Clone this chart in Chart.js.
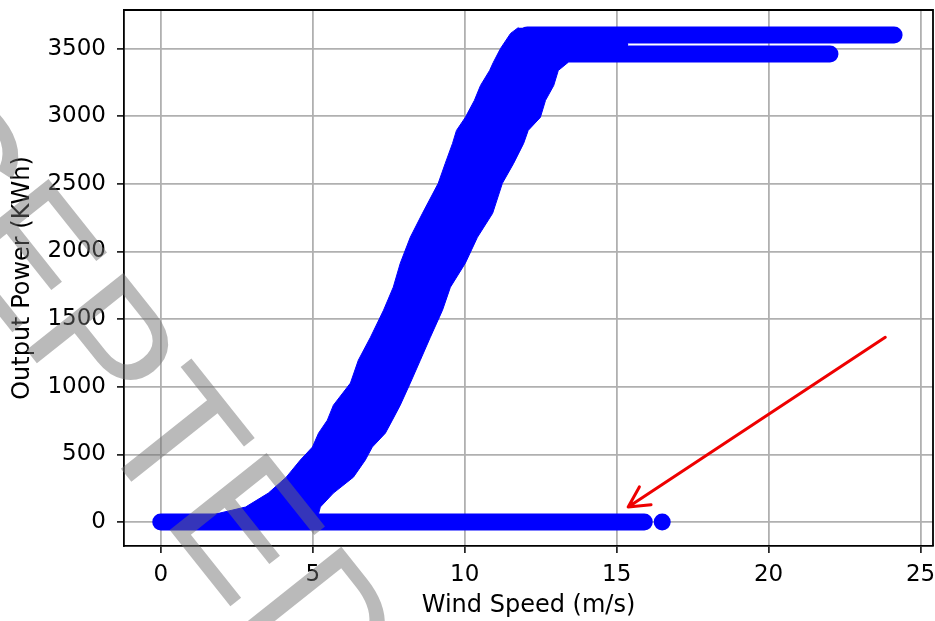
<!DOCTYPE html>
<html>
<head>
<meta charset="utf-8">
<title>Wind Speed vs Output Power</title>
<script src="https://cdn.jsdelivr.net/npm/chart.js@4.4.1/dist/chart.umd.min.js"></script>
<style>
  html, body { margin: 0; padding: 0; background: #fff; }
  canvas { display: block; }
</style>
</head>
<body>
<canvas id="powerCurveChart" width="935" height="621"></canvas>
<script>
/* Data
---------------------------- */

// ramp of the power curve: output power levels and the outer wind speeds of the cloud there
var rampPower      = [59, 111, 214, 332, 458, 554, 657, 753, 864, 1027, 1196, 1366, 1566, 1736, 1913, 2105, 2282, 2504, 2651, 2799, 2895, 2991, 3117, 3227, 3338, 3397, 3501, 3612, 3656];
var rampLeftSpeed  = [1.80, 2.79, 3.54, 4.13, 4.59, 4.99, 5.19, 5.48, 5.68, 6.24, 6.50, 6.90, 7.33, 7.65, 7.88, 8.21, 8.61, 9.13, 9.36, 9.60, 9.73, 10.02, 10.32, 10.52, 10.82, 10.94, 11.18, 11.51, 11.77];
var rampRightSpeed = [5.19, 5.25, 5.68, 6.34, 6.73, 6.96, 7.39, 7.62, 7.88, 8.21, 8.54, 8.87, 9.27, 9.53, 10.02, 10.42, 10.92, 11.24, 11.61, 11.94, 12.09, 12.49, 12.66, 12.93, 13.08, 13.40, 13.40, 13.40, 13.40];

// flat runs of points: [from speed, to speed] at a power level
var zeroRunSpeed   = [0, 15.91];       // turbine producing nothing
var zeroLastSpeed  = [16.50];
var ratedRunSpeed  = [12.06, 24.13];   // rated power
var ratedPower     = 3600;
var lowerRunSpeed  = [12.5, 22.02];
var lowerPower     = 3459;
var mixRunSpeed    = [12.06, 15.10];
var mixPower       = 3530;

// annotation arrow (speed, power)
var arrowFrom = [23.84, 1366];
var arrowTo   = [15.38, 111];

var xTicks = [0, 5, 10, 15, 20, 25];
var yTicks = [0, 500, 1000, 1500, 2000, 2500, 3000, 3500];

var blue = '#0000ff';

function toPoints(xs, ys) {
  return xs.map(function(x, i) { return {x: x, y: ys[i]}; });
}
function run(xs, y) {
  return xs.map(function(x) { return {x: x, y: y}; });
}
function band(data) {
  return {
    data: data, borderColor: blue, borderWidth: 17, borderCapStyle: 'round',
    pointRadius: 0, fill: false
  };
}

/* Frame, arrow and watermark
---------------------------- */
var overlayPlugin = {
  id: 'overlay',
  afterDraw: function(chart) {
    var c = chart.ctx, a = chart.chartArea;
    var sx = chart.scales.x, sy = chart.scales.y;

    // top and right spines
    c.save();
    c.strokeStyle = '#000';
    c.lineWidth = 1.8;
    c.beginPath();
    c.moveTo(a.left, a.top);
    c.lineTo(a.right, a.top);
    c.lineTo(a.right, a.bottom);
    c.stroke();

    // red arrow
    var fx = sx.getPixelForValue(arrowFrom[0]), fy = sy.getPixelForValue(arrowFrom[1]);
    var tx = sx.getPixelForValue(arrowTo[0]),   ty = sy.getPixelForValue(arrowTo[1]);
    var ang = Math.atan2(ty - fy, tx - fx);
    c.strokeStyle = 'rgb(238,0,0)';
    c.lineWidth = 3;
    c.lineCap = 'round';
    c.lineJoin = 'round';
    c.beginPath();
    c.moveTo(fx, fy);
    c.lineTo(tx, ty);
    c.moveTo(tx - 23 * Math.cos(ang - 0.48), ty - 23 * Math.sin(ang - 0.48));
    c.lineTo(tx, ty);
    c.lineTo(tx - 23 * Math.cos(ang + 0.48), ty - 23 * Math.sin(ang + 0.48));
    c.stroke();
    c.restore();

    // watermark
    c.save();
    c.translate(-294, -53);
    c.rotate(51.5 * Math.PI / 180);
    c.font = '180px "Liberation Sans"';
    c.textBaseline = 'alphabetic';
    c.fillStyle = 'rgba(110,110,110,0.48)';
    c.fillText('ACCEPTED', 0, 0);
    c.restore();
  }
};

var tickFont = {family: '"DejaVu Sans"', size: 23};
var titleFont = {family: '"DejaVu Sans"', size: 24};

var ctx = document.getElementById("powerCurveChart");
var powerCurveChart = new Chart(ctx, {
  type: 'line',
  data: {
    datasets: [
      {
        data: toPoints(rampLeftSpeed, rampPower),
        borderColor: blue, backgroundColor: blue, borderWidth: 1,
        pointRadius: 0, fill: '+1'
      },
      {
        data: toPoints(rampRightSpeed, rampPower),
        borderColor: blue, borderWidth: 1, pointRadius: 0, fill: false
      },
      band(run(zeroRunSpeed, 0)),
      band(run(ratedRunSpeed, ratedPower)),
      band(run(lowerRunSpeed, lowerPower)),
      band(run(mixRunSpeed, mixPower)),
      {
        data: run(zeroLastSpeed, 0),
        showLine: false, pointRadius: 8.5, pointBorderWidth: 0,
        pointBackgroundColor: blue, fill: false
      }
    ]
  },
  options: {
    indexAxis: 'y',
    responsive: false,
    animation: false,
    events: [],
    layout: {autoPadding: false, padding: {top: 10, right: 2, left: 0, bottom: 0}},
    plugins: {
      legend: {display: false},
      tooltip: {enabled: false}
    },
    scales: {
      x: {
        type: 'linear', position: 'bottom', min: -1.21, max: 25.41, z: 1,
        afterBuildTicks: function(s) { s.ticks = xTicks.map(function(v) { return {value: v}; }); },
        afterFit: function(s) { s.height = 75; s.paddingLeft = 0; s.paddingRight = 0; },
        ticks: {font: tickFont, color: '#000', padding: 8, maxRotation: 0,
                callback: function(v) { return String(v); }},
        grid: {color: '#b0b0b0', lineWidth: 1.8, tickColor: '#000', tickLength: 7, tickWidth: 1.5},
        border: {color: '#000', width: 1.8},
        title: {display: true, text: 'Wind Speed (m/s)', font: titleFont, color: '#000', padding: {top: 0, bottom: 1}}
      },
      y: {
        type: 'linear', position: 'left', min: -177, max: 3785, z: 1,
        afterBuildTicks: function(s) { s.ticks = yTicks.map(function(v) { return {value: v}; }); },
        afterFit: function(s) { s.width = 124; s.paddingTop = 0; s.paddingBottom = 0; },
        ticks: {font: tickFont, color: '#000', padding: 11,
                callback: function(v) { return String(v); }},
        grid: {color: '#b0b0b0', lineWidth: 1.8, tickColor: '#000', tickLength: 7, tickWidth: 1.5},
        border: {color: '#000', width: 1.8},
        title: {display: true, text: 'Output Power (KWh)', font: titleFont, color: '#000', padding: {top: 8, bottom: 0}}
      }
    }
  },
  plugins: [overlayPlugin]
});
</script>
</body>
</html>
